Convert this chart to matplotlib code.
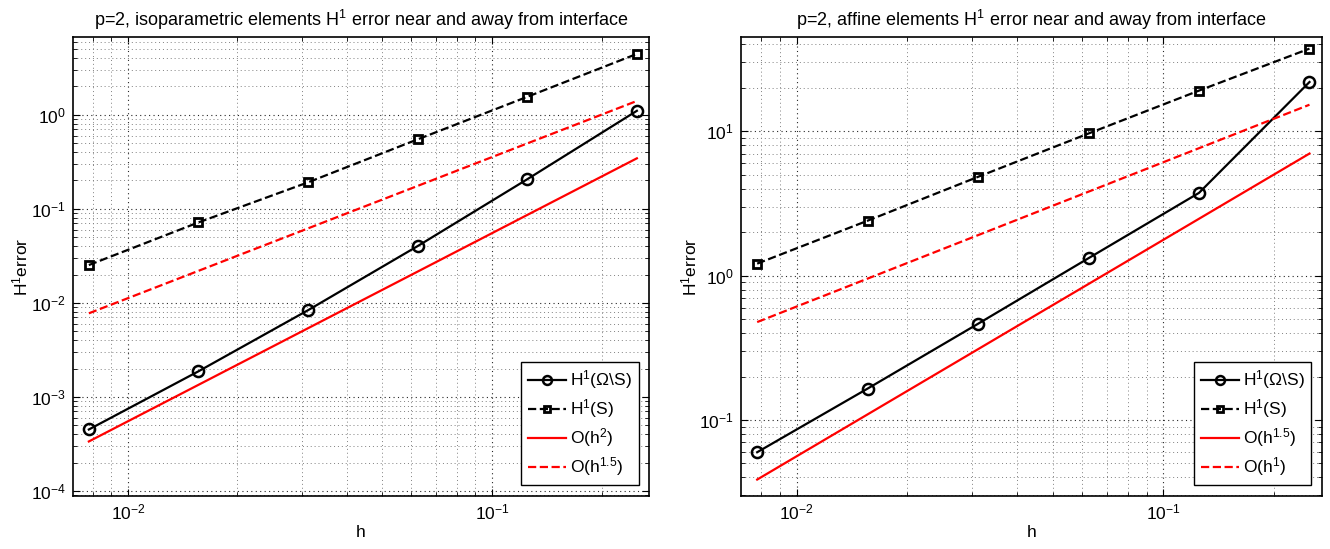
import numpy as np
import matplotlib
matplotlib.use('Agg')
import matplotlib.pyplot as plt
from matplotlib.ticker import LogLocator, NullFormatter

plt.rcParams['font.family'] = ['Liberation Sans', 'DejaVu Sans']
plt.rcParams['mathtext.default'] = 'regular'
plt.rcParams['font.size'] = 12.5

# mesh sizes h = 1/128 ... 1/4
h = np.array([1/128, 1/64, 1/32, 1/16, 1/8, 1/4])

# isoparametric elements
iso_away = [4.5e-4, 1.87e-3, 8.35e-3, 0.0401, 0.206, 1.1]
iso_near = [0.0252, 0.0716, 0.191, 0.547, 1.55, 4.43]
iso_c_h2 = 5.5
iso_c_h15 = 11.2

# affine elements
aff_away = [0.0598, 0.165, 0.464, 1.32, 3.74, 21.9]
aff_near = [1.21, 2.40, 4.83, 9.64, 19.1, 37.3]
aff_c_h15 = 56.0
aff_c_h1 = 61.0

fig = plt.figure(figsize=(13.3, 5.49), dpi=100)
ax1 = fig.add_axes([0.0546, 0.0971, 0.4334, 0.8355])
ax2 = fig.add_axes([0.557, 0.0971, 0.4368, 0.8355])


def setup(ax, title, ylim):
	ax.set_xscale('log')
	ax.set_yscale('log')
	ax.set_xlim(0.00705, 0.27)
	ax.set_ylim(*ylim)
	ax.set_title(title, fontsize=13, pad=8)
	ax.set_xlabel('h', fontsize=12.5, labelpad=2)
	ax.set_ylabel('H$^1$error', fontsize=12.5, labelpad=0)
	ax.xaxis.set_minor_locator(LogLocator(base=10, subs=np.arange(2, 10), numticks=20))
	ax.yaxis.set_minor_locator(LogLocator(base=10, subs=np.arange(2, 10), numticks=20))
	ax.xaxis.set_minor_formatter(NullFormatter())
	ax.yaxis.set_minor_formatter(NullFormatter())
	ax.grid(True, which='major', linestyle=(0, (1, 3)), color='0.15', linewidth=0.8)
	ax.grid(True, which='minor', linestyle=(0, (1, 3)), color='0.5', linewidth=0.7)
	ax.tick_params(which='both', direction='in', top=True, right=True, labelsize=12.5)
	ax.tick_params(which='major', length=5, width=0.8, pad=5)
	ax.tick_params(which='minor', length=3, width=0.6)
	for sp in ax.spines.values():
		sp.set_linewidth(1.2)


setup(ax1, 'p=2, isoparametric elements H$^1$ error near and away from interface', (8.9e-5, 6.7))
ax1.plot(h, iso_away, 'k-o', lw=1.6, ms=8, mew=1.8, mfc='none', label='H$^1$(Ω\\S)')
ax1.plot(h, iso_near, 'k--s', lw=1.6, ms=6, mew=2, mfc='none', label='H$^1$(S)')
ax1.plot(h, iso_c_h2 * h**2, 'r-', lw=1.6, label='O(h$^2$)')
ax1.plot(h, iso_c_h15 * h**1.5, 'r--', lw=1.6, label='O(h$^{1.5}$)')

setup(ax2, 'p=2, affine elements H$^1$ error near and away from interface', (0.0299, 44.9))
ax2.plot(h, aff_away, 'k-o', lw=1.6, ms=8, mew=1.8, mfc='none', label='H$^1$(Ω\\S)')
ax2.plot(h, aff_near, 'k--s', lw=1.6, ms=6, mew=2, mfc='none', label='H$^1$(S)')
ax2.plot(h, aff_c_h15 * h**1.5, 'r-', lw=1.6, label='O(h$^{1.5}$)')
ax2.plot(h, aff_c_h1 * h**1, 'r--', lw=1.6, label='O(h$^1$)')

for ax in (ax1, ax2):
	leg = ax.legend(loc='lower right', fontsize=12.5, fancybox=False, framealpha=1,
		edgecolor='black', handlelength=2.2, borderaxespad=0.6, labelspacing=0.35,
		handletextpad=0.2, borderpad=0.4, markerscale=0.8)
	leg.get_frame().set_linewidth(1.0)

plt.savefig('out.png', dpi=100)
